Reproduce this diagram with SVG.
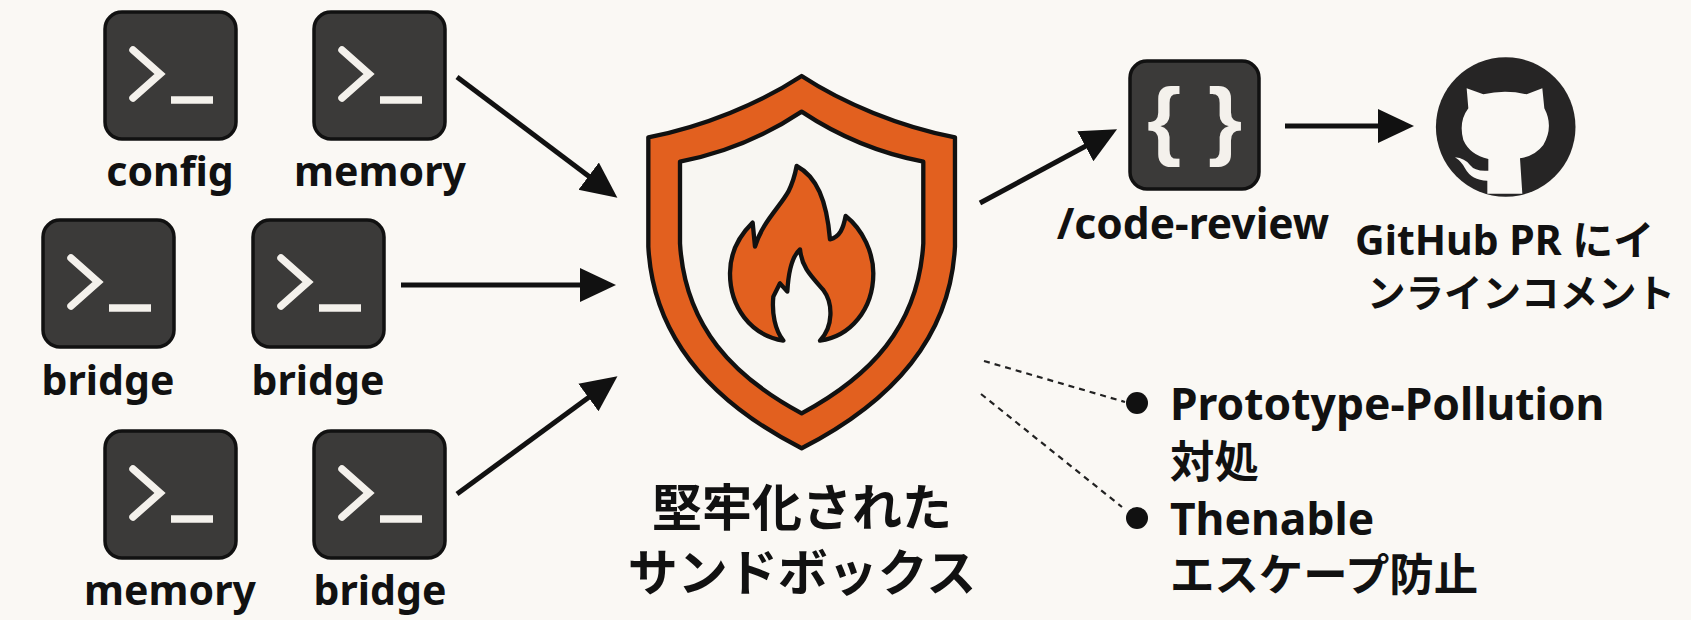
<svg xmlns="http://www.w3.org/2000/svg" width="1691" height="620" viewBox="0 0 1691 620">
<style>
.t{font-family:"Noto Sans","Noto Sans CJK JP",sans-serif;font-weight:700;fill:#111}
.l{font-size:41px;text-anchor:middle}
.k{font-size:44.4px}
.h{font-size:50px;text-anchor:middle}
.box{fill:#3b3a39;stroke:#111;stroke-width:3.5}
.gl{fill:none;stroke:#f4f1ec;stroke-width:7.5;stroke-linecap:round;stroke-linejoin:miter}
.br{font-family:"Liberation Sans",sans-serif;font-weight:700;font-size:88px;fill:#f4f1ec;text-anchor:middle}
.or{fill:#e2601f;stroke:#111;stroke-width:13;stroke-linejoin:round}
.a{fill:none;stroke:#111;stroke-width:5}
.d{fill:none;stroke:#222;stroke-width:2.2;stroke-dasharray:6 5}
</style>
<defs>
<marker id="ah" markerUnits="userSpaceOnUse" markerWidth="38" markerHeight="38" refX="28" refY="19" orient="auto"><path d="M0 2L36 19L0 36Z" fill="#111"/></marker>
<g id="term"><rect class="box" x="0" y="0" width="131" height="127" rx="17"/><path class="gl" d="M28 38L55 62L28 86"/><path d="M66 88H108" fill="none" stroke="#f4f1ec" stroke-width="7.5"/></g>
</defs>
<rect width="1691" height="620" fill="#faf8f4"/>
<g id="connectors">
<path class="a" marker-end="url(#ah)" d="M457 77L611 193"/>
<path class="a" marker-end="url(#ah)" d="M401 285H608"/>
<path class="a" marker-end="url(#ah)" d="M457 494L611 381"/>
<path class="a" marker-end="url(#ah)" d="M980 203L1110 133"/>
<path class="a" marker-end="url(#ah)" d="M1285 126H1406"/>
<path class="d" d="M984 361L1125 402"/>
<path class="d" d="M981 394L1122 507"/>
</g>
<g id="n-config"><use href="#term" x="105" y="12"/><text class="t l" x="170" y="186">config</text></g>
<g id="n-memory1"><use href="#term" x="314" y="12"/><text class="t l" x="380" y="186">memory</text></g>
<g id="n-bridge1"><use href="#term" x="43" y="220"/><text class="t l" x="108" y="395">bridge</text></g>
<g id="n-bridge2"><use href="#term" x="253" y="220"/><text class="t l" x="318" y="395">bridge</text></g>
<g id="n-memory2"><use href="#term" x="105" y="431"/><text class="t l" x="170" y="605">memory</text></g>
<g id="n-bridge3"><use href="#term" x="314" y="431"/><text class="t l" x="380" y="605">bridge</text></g>
<g id="n-sandbox">
<g transform="translate(620 60) scale(.3333)">
<path class="or" d="M545 48C420 130 250 200 85 232L85 560C100 850 300 1040 545 1165C790 1040 990 850 1005 560L1005 232C840 200 670 130 545 48Z"/>
<path d="M545 155C440 225 310 280 180 305L180 550C195 800 340 950 545 1060C750 950 895 800 910 550L910 305C780 280 650 225 545 155Z" fill="#f8f6f2" stroke="#111" stroke-width="13" stroke-linejoin="round"/>
</g>
<g transform="translate(700 150) scale(.3333)">
<path class="or" d="M290 48C350 80 380 150 390 268C420 260 430 235 437 198C490 240 520 310 520 370C520 480 450 560 360 572C400 530 400 460 370 420C330 375 305 350 300 298C275 320 265 370 262 425L240 400L220 440C215 490 225 540 250 572C150 555 90 470 90 370C90 310 115 260 158 218L165 290C185 220 240 170 265 125C280 95 285 75 290 48Z"/>
</g>
<text class="t h" x="802" y="526">堅牢化された</text>
<text class="t h" x="802" y="591">サンドボックス</text>
</g>
<g id="n-review">
<rect class="box" x="1130" y="61" width="129" height="128" rx="17"/>
<text class="br" x="1164" y="149">{</text>
<text class="br" x="1225" y="149">}</text>
<text class="t l" x="1193" y="239" style="font-size:42.5px">/code-review</text>
</g>
<g id="n-github">
<circle cx="1505.7" cy="127" r="69.8" fill="#262525"/>
<g transform="translate(1430 50) scale(.3333)">
<path fill="#faf8f4" d="M110 115L160 133Q225 118 290 133L337 115L343 175Q372 230 340 285Q315 318 270 325L277 431L172 431L172 392Q125 392 105 355Q95 335 75 322Q105 325 120 345Q135 365 175 362L175 327Q120 315 100 270Q85 215 115 175Z"/>
</g>
<text class="t" x="1355" y="255" font-size="41">GitHub PR にイ</text>
<text class="t" x="1367" y="307" font-size="38.5">ンラインコメント</text>
</g>
<g id="n-notes">
<circle cx="1137" cy="403" r="11" fill="#111"/>
<circle cx="1137" cy="518" r="11" fill="#111"/>
<text class="t k" x="1170" y="420">Prototype-Pollution</text>
<text class="t k" x="1170" y="478">対処</text>
<text class="t k" x="1170" y="535">Thenable</text>
<text class="t k" x="1170" y="591">エスケープ防止</text>
</g>
</svg>
